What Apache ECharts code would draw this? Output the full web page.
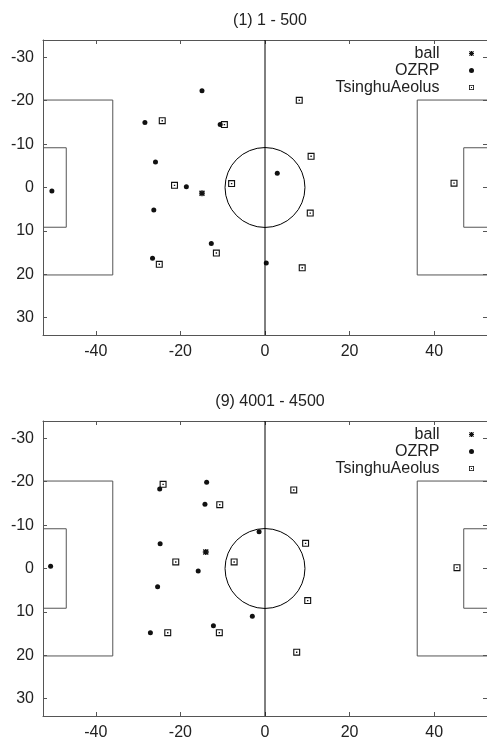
<!DOCTYPE html>
<html>
<head>
<meta charset="utf-8">
<script src="https://cdn.jsdelivr.net/npm/echarts@6/dist/echarts.min.js"></script>
<style>
  html, body { margin: 0; padding: 0; background: #fff; }
  #chart { width: 487px; height: 742px; }
</style>
</head>
<body>
<div id="chart"></div>
<script>
// 两幅球场快照：(1) 1-500 与 (9) 4001-4500
const panelTitles = ['(1) 1 - 500', '(9) 4001 - 4500'];
const seriesNames = ['ball', 'OZRP', 'TsinghuAeolus'];
const xTicks = [-40, -20, 0, 20, 40];
const yTicks = [-30, -20, -10, 0, 10, 20, 30];

// 球场线（单位：米）
const penaltyLeft = [[-52.5, -20.16], [-36, -20.16], [-36, 20.16], [-52.5, 20.16]];
const goalLeft = [[-52.5, -9.16], [-47, -9.16], [-47, 9.16], [-52.5, 9.16]];
const penaltyRight = [[52.5, -20.16], [36, -20.16], [36, 20.16], [52.5, 20.16]];
const goalRight = [[52.5, -9.16], [47, -9.16], [47, 9.16], [52.5, 9.16]];
const halfLine = [[0, -34], [0, 34]];
const centerCircle = [[0, 0, 9.45]];

// 第 1 幅
const ball1 = [[-14.9, 1.3]];
const ozrp1 = [[-14.9, -22.3], [-28.4, -15.0], [-10.6, -14.5], [-25.9, -5.9], [-50.4, 0.8], [-18.6, -0.2],
  [-26.3, 5.2], [2.9, -3.3], [-12.7, 12.9], [-26.6, 16.3], [0.3, 17.4]];
const tsinghu1 = [[-24.3, -15.4], [-9.6, -14.5], [8.1, -20.1], [10.9, -7.2], [-21.4, -0.5], [-7.9, -0.9],
  [44.7, -1.0], [10.7, 5.9], [-11.5, 15.1], [-25.0, 17.7], [8.8, 18.5]];

// 第 9 幅
const ball2 = [[-14.0, -3.8]];
const ozrp2 = [[-13.8, -19.9], [-24.9, -18.3], [-14.2, -14.8], [-24.8, -5.7], [-1.4, -8.5], [-50.7, -0.5],
  [-15.8, 0.6], [-25.4, 4.2], [-3.0, 11.0], [-12.2, 13.2], [-27.1, 14.8]];
const tsinghu2 = [[-24.1, -19.4], [-10.7, -14.7], [6.8, -18.1], [9.6, -5.8], [-21.1, -1.5], [-7.3, -1.5],
  [45.4, -0.2], [10.1, 7.4], [-23.0, 14.8], [-10.8, 14.8], [7.5, 19.3]];

const panelData = [[ball1, ozrp1, tsinghu1], [ball2, ozrp2, tsinghu2]];

const FONT = 'Liberation Sans';
const BORDER = '#555';
// 粗星号（gnuplot pt 3）、空心方块带中心点
const starPath = 'path://M0,3.8H10V6.2H0Z M3.8,0H6.2V10H3.8Z M1.7,0L10,8.3L8.3,10L0,1.7Z M8.3,0L10,1.7L1.7,10L0,8.3Z';
const boxPath = 'path://M0,0H10V10H0Z M1.6,1.6V8.4H8.4V1.6Z M4,4H6V6H4Z';
const symbols = [starPath, 'circle', boxPath];
const symbolSizes = [6, 5, 7];

const grids = [], xAxes = [], yAxes = [], series = [], titles = [], legends = [];
const gridTops = [40, 421];

gridTops.forEach((top, i) => {
  grids.push({ left: 43, top: top, width: 445, height: 295 });
  titles.push({
    text: panelTitles[i], left: 265, top: top - 32, textAlign: 'center',
    textStyle: { fontFamily: FONT, fontSize: 16, fontWeight: 'normal', color: '#222' },
  });
  legends.push({
    orient: 'vertical', align: 'right', right: 13, top: top + 5, padding: 0,
    itemGap: 0, itemWidth: 54, itemHeight: 5, selectedMode: false,
    data: seriesNames,
    textStyle: { fontFamily: FONT, fontSize: 16, lineHeight: 17, color: '#222' },
  });

  ['bottom', 'top'].forEach(pos => {
    xAxes.push({
      gridIndex: i, type: 'value', position: pos, min: -52.5, max: 52.5,
      splitLine: { show: false },
      axisLine: { onZero: false, lineStyle: { color: BORDER, width: 1 } },
      axisTick: { inside: true, length: 4, customValues: xTicks, lineStyle: { color: BORDER } },
      axisLabel: { show: pos === 'bottom', customValues: xTicks, margin: 9, fontFamily: FONT, fontSize: 16, color: '#222' },
    });
  });
  ['left', 'right'].forEach(pos => {
    yAxes.push({
      gridIndex: i, type: 'value', position: pos, inverse: true, min: -34, max: 34,
      splitLine: { show: false },
      axisLine: { onZero: false, lineStyle: { color: BORDER, width: 1 } },
      axisTick: { inside: true, length: 4, customValues: yTicks, lineStyle: { color: BORDER } },
      axisLabel: { show: pos === 'left', customValues: yTicks, margin: 9, fontFamily: FONT, fontSize: 16, color: '#222' },
    });
  });

  const ax = { xAxisIndex: 2 * i, yAxisIndex: 2 * i };
  [penaltyLeft, goalLeft, penaltyRight, goalRight].forEach(box => {
    series.push(Object.assign({
      type: 'line', data: box, symbol: 'none', silent: true, animation: false,
      lineStyle: { color: BORDER, width: 1 },
    }, ax));
  });
  series.push(Object.assign({
    type: 'line', data: halfLine, symbol: 'none', silent: true, animation: false,
    lineStyle: { color: '#000', width: 1 },
  }, ax));
  series.push(Object.assign({
    type: 'custom', data: centerCircle, silent: true, animation: false,
    renderItem(params, api) {
      const c = api.coord([api.value(0), api.value(1)]);
      const s = api.size([api.value(2), api.value(2)]);
      const rx = Math.abs(s[0]), ry = Math.abs(s[1]);
      return {
        type: 'path',
        shape: { pathData: 'M0,50A50,50,0,1,0,100,50A50,50,0,1,0,0,50Z', x: c[0] - rx, y: c[1] - ry, width: 2 * rx, height: 2 * ry },
        style: { fill: 'none', stroke: '#000', lineWidth: 1 },
      };
    },
  }, ax));

  seriesNames.forEach((name, k) => {
    series.push(Object.assign({
      name: name, type: 'scatter', data: panelData[i][k],
      symbol: symbols[k], symbolSize: symbolSizes[k], animation: false,
      itemStyle: { color: '#111', opacity: 1 },
    }, ax));
  });
});

const chart = echarts.init(document.getElementById('chart'));
chart.setOption({
  backgroundColor: '#fff',
  animation: false,
  title: titles,
  legend: legends,
  grid: grids,
  xAxis: xAxes,
  yAxis: yAxes,
  series: series,
});
</script>
</body>
</html>
